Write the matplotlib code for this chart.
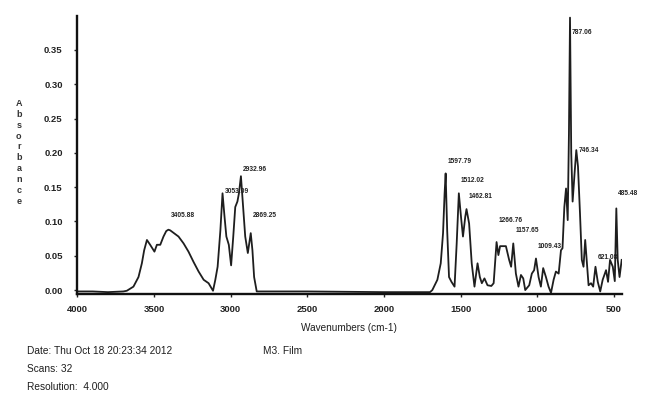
# FTIR absorbance spectrum, M3 film
import numpy as np
import matplotlib.pyplot as plt

plt.rcParams['font.family'] = ['Liberation Sans', 'DejaVu Sans']

# spectrum (wavenumber cm-1, absorbance)
wavenumber = [4000, 3900, 3800, 3700, 3677, 3634, 3601, 3579, 3564, 3546,
              3525, 3497, 3481, 3459, 3438, 3420, 3406, 3394, 3373, 3340,
              3307, 3275, 3242, 3209, 3176, 3144, 3115, 3100, 3085, 3067,
              3053, 3040, 3028, 3012, 2997, 2983, 2970, 2956, 2946, 2933,
              2920, 2905, 2888, 2876, 2869, 2858, 2847, 2830, 2700, 2500,
              2000, 1800, 1700, 1685, 1652, 1630, 1615, 1605, 1598, 1588,
              1576, 1560, 1540, 1526, 1512, 1498, 1485, 1470, 1462, 1445,
              1428, 1410, 1390, 1375, 1362, 1345, 1325, 1300, 1285, 1266,
              1254, 1243, 1205, 1184, 1171, 1157, 1140, 1123, 1107, 1092,
              1079, 1053, 1036, 1021, 1009, 992, 977, 962, 944, 927,
              911, 894, 879, 861, 846, 836, 824, 813, 802, 794,
              787, 779, 770, 757, 746, 735, 722, 710, 699, 688,
              677, 666, 650, 636, 621, 606, 590, 574, 552, 539,
              526, 508, 495, 485, 476, 464, 450]
absorbance = [-0.002, -0.002, -0.003, -0.002, -0.001, 0.005, 0.019, 0.039, 0.058, 0.073,
              0.066, 0.056, 0.066, 0.066, 0.078, 0.086, 0.088, 0.087, 0.0835, 0.078,
              0.068, 0.056, 0.041, 0.027, 0.015, 0.010, -0.001, 0.015, 0.034, 0.087,
              0.141, 0.107, 0.078, 0.066, 0.036, 0.078, 0.121, 0.129, 0.141, 0.166,
              0.126, 0.078, 0.054, 0.073, 0.083, 0.058, 0.019, -0.002, -0.002, -0.002,
              -0.003, -0.003, -0.003, 0.000, 0.015, 0.039, 0.083, 0.140, 0.170, 0.087,
              0.019, 0.012, 0.005, 0.068, 0.141, 0.107, 0.078, 0.107, 0.118, 0.097,
              0.039, 0.005, 0.039, 0.019, 0.010, 0.017, 0.007, 0.006, 0.010, 0.070,
              0.051, 0.064, 0.064, 0.044, 0.034, 0.068, 0.024, 0.005, 0.022, 0.017,
              0.000, 0.007, 0.024, 0.029, 0.046, 0.019, 0.005, 0.032, 0.019, 0.005,
              -0.004, 0.015, 0.027, 0.024, 0.058, 0.061, 0.121, 0.148, 0.102, 0.228,
              0.397, 0.200, 0.129, 0.171, 0.204, 0.180, 0.112, 0.044, 0.034, 0.073,
              0.039, 0.007, 0.010, 0.005, 0.034, 0.012, -0.002, 0.015, 0.029, 0.012,
              0.044, 0.034, 0.013, 0.119, 0.044, 0.019, 0.044]

# peak labels
peak_wn = [3406, 3053, 2933, 2869, 1598, 1512, 1462, 1266, 1157, 1009, 787, 746, 621, 485]
peak_text = ['3405.88', '3053.09', '2932.96', '2869.25', '1597.79', '1512.02', '1462.81',
             '1266.76', '1157.65', '1009.43', '787.06', '746.34', '621.08', '485.48']
label_y = [0.108, 0.143, 0.176, 0.108, 0.188, 0.159, 0.137, 0.102, 0.0875, 0.064,
           0.376, 0.204, 0.047, 0.141]

xticks = [4000, 3500, 3000, 2500, 2000, 1500, 1000, 500]
yticks = [0.00, 0.05, 0.10, 0.15, 0.20, 0.25, 0.30, 0.35]

fig = plt.figure(figsize=(6.48, 3.99), dpi=100)
ax = fig.add_axes([0.1193, 0.2644, 0.8401, 0.6955])

ax.plot(wavenumber, absorbance, color='#1e1e1e', lw=1.3)

ax.set_xlim(4000, 450)
ax.set_ylim(-0.005, 0.3994)
ax.set_xticks(xticks)
ax.set_yticks(yticks)
ax.set_yticklabels(['%.2f' % v for v in yticks])

for s in ['top', 'right']:
    ax.spines[s].set_visible(False)
for s in ['left', 'bottom']:
    ax.spines[s].set_linewidth(1.7)
    ax.spines[s].set_color('#111111')

ax.tick_params(axis='y', direction='out', length=2.5, width=1, pad=8,
               labelsize=6.8, colors='#222222')
ax.tick_params(axis='x', direction='out', length=2.5, width=1, pad=6,
               labelsize=6.8, colors='#222222')
for lab in ax.get_xticklabels() + ax.get_yticklabels():
    lab.set_fontweight('bold')

for wn, txt, ly in zip(peak_wn, peak_text, label_y):
    ax.annotate(txt, xy=(wn, ly), xytext=(1.5, 0), textcoords='offset points',
                ha='left', va='center', fontsize=4.8, fontweight='bold', color='#222222')

# y label written letter by letter, as in the scan
fig.text(0.029, 0.618, '\n'.join('Absorbance'), ha='center', va='center',
         fontsize=6.5, linespacing=1.27, fontweight='bold', color='#333333')
fig.text(0.539, 0.177, 'Wavenumbers (cm-1)', ha='center', va='center', fontsize=7.2, color='#1e1e1e')

fig.text(0.0417, 0.121, 'Date: Thu Oct 18 20:23:34 2012', ha='left', va='center', fontsize=7.3, color='#1e1e1e')
fig.text(0.406, 0.121, 'M3. Film', ha='left', va='center', fontsize=7.3, color='#1e1e1e')
fig.text(0.0417, 0.076, 'Scans: 32', ha='left', va='center', fontsize=7.3, color='#1e1e1e')
fig.text(0.0417, 0.031, 'Resolution:  4.000', ha='left', va='center', fontsize=7.3, color='#1e1e1e')

fig.savefig('out.png', dpi=100)
